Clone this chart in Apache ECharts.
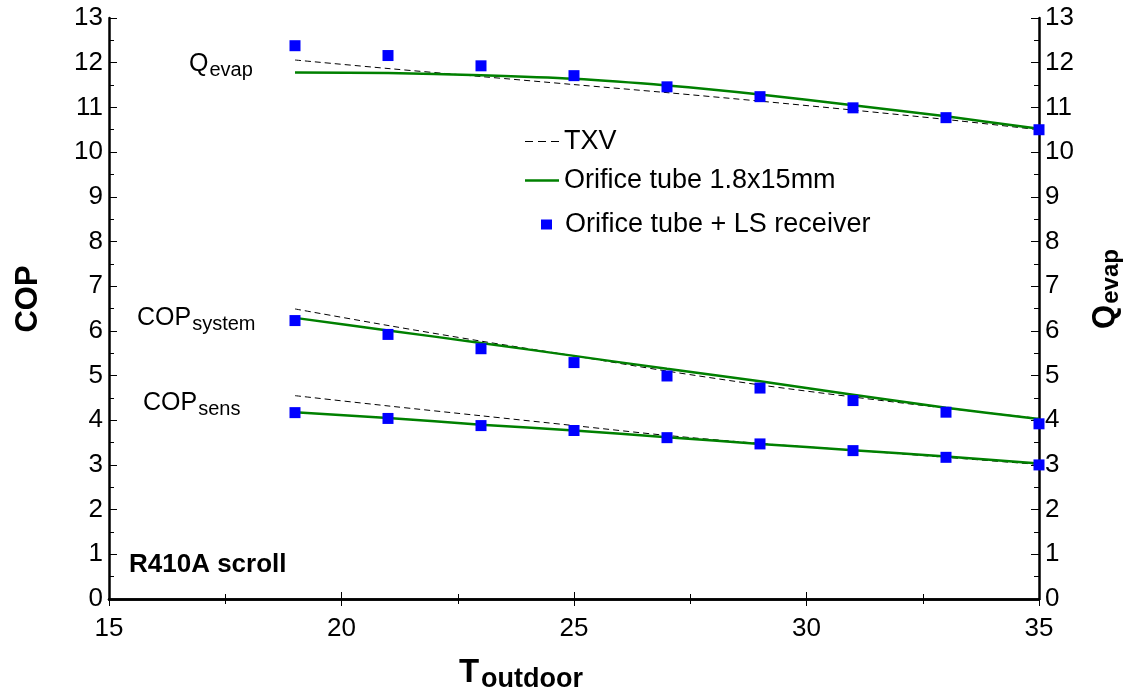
<!DOCTYPE html>
<html><head><meta charset="utf-8">
<script src="https://cdn.jsdelivr.net/npm/echarts@6/dist/echarts.min.js"></script>
<style>html,body{margin:0;padding:0;background:#fff}#c{width:1135px;height:691px}</style>
</head><body><div id="c"></div>
<script>
const tOutdoor = [19, 21, 23, 25, 27, 29, 31, 33, 35];
// TXV (dashed)
const txvQevap = [12.06, 11.87, 11.69, 11.51, 11.33, 11.14, 10.94, 10.73, 10.50];
const txvCopSystem = [6.49, 6.12, 5.77, 5.44, 5.10, 4.79, 4.52, 4.27, 4.04];
const txvCopSens = [4.55, 4.32, 4.10, 3.88, 3.66, 3.48, 3.33, 3.17, 3.01];
// Orifice tube 1.8x15mm (green)
const oriQevap = [11.78, 11.77, 11.72, 11.64, 11.49, 11.29, 11.05, 10.80, 10.52];
const oriCopSystem = [6.29, 6.01, 5.73, 5.44, 5.15, 4.87, 4.57, 4.28, 4.03];
const oriCopSens = [4.18, 4.05, 3.90, 3.77, 3.62, 3.47, 3.33, 3.19, 3.03];
// Orifice tube + LS receiver (squares)
const lsQevap = [12.38, 12.16, 11.93, 11.71, 11.46, 11.24, 10.99, 10.77, 10.50];
const lsCopSystem = [6.23, 5.92, 5.60, 5.29, 4.99, 4.72, 4.44, 4.18, 3.92];
const lsCopSens = [4.17, 4.04, 3.88, 3.77, 3.61, 3.47, 3.32, 3.17, 3.00];
const xTicks = [15, 20, 25, 30, 35];
const yTicks = [0,1,2,3,4,5,6,7,8,9,10,11,12,13];

const pair = (ys) => tOutdoor.map((x, i) => [x, ys[i]]);
const FONT = 'Liberation Sans, Arial, sans-serif';
const txvStyle = {color: '#000', width: 1, type: [6, 4]};
const oriStyle = {color: '#008000', width: 2.5};

function lineSeries(name, ys, style, yIdx) {
  return {name, type: 'line', data: pair(ys), yAxisIndex: yIdx, symbol: 'none', smooth: 0.3,
    lineStyle: style, itemStyle: {color: style.color}, z: 2, silent: true};
}
function sqSeries(ys, yIdx) {
  return {name: 'Orifice tube + LS receiver', type: 'scatter', data: pair(ys), yAxisIndex: yIdx,
    symbol: 'rect', symbolSize: 11, itemStyle: {color: '#0000ff', opacity: 1}, z: 3};
}
const axisLine = {show: true, lineStyle: {color: '#000', width: 2.5}};
const xBase = {type: 'value', min: 15, max: 35, interval: 5,
  axisLine, axisTick: {show: true, inside: true, length: 7, lineStyle: {color: '#000', width: 1}},
  minorTick: {show: true, splitNumber: 2, length: 5, lineStyle: {color: '#000', width: 1}},
  splitLine: {show: false}, minorSplitLine: {show: false}};
const yBase = {type: 'value', min: 0, max: 13, interval: 1,
  axisLine, axisTick: {show: true, inside: true, length: 8, lineStyle: {color: '#000', width: 1}},
  minorTick: {show: true, splitNumber: 2, length: 5, lineStyle: {color: '#000', width: 1}},
  splitLine: {show: false}, minorSplitLine: {show: false}};
const tickFont = {color: '#000', fontSize: 26, fontFamily: FONT};
const legText = {fontSize: 27, fontFamily: FONT, color: '#000'};

const chart = echarts.init(document.getElementById('c'), null, {renderer: 'canvas'});
chart.setOption({
  backgroundColor: '#fff',
  animation: false,
  grid: {left: 109, right: 96, top: 18, bottom: 92},
  textStyle: {fontFamily: FONT},
  xAxis: [
    Object.assign({}, xBase, {position: 'bottom', axisLabel: Object.assign({show: true, margin: 17,
      formatter: v => xTicks.includes(v) ? String(v) : ''}, tickFont)}),
    Object.assign({}, xBase, {position: 'top', axisLabel: {show: false}})
  ],
  yAxis: [
    Object.assign({}, yBase, {position: 'left', axisLabel: Object.assign({show: true, margin: 6,
      formatter: v => yTicks.includes(v) ? String(v) : ''}, tickFont)}),
    Object.assign({}, yBase, {position: 'right', axisLabel: Object.assign({show: true, margin: 6,
      formatter: v => yTicks.includes(v) ? String(v) : ''}, tickFont)})
  ],
  legend: [
    {left: 520, top: 123, itemWidth: 34, itemHeight: 1.5, selectedMode: false, textStyle: legText,
      data: [{name: 'TXV', icon: 'path://M0,0h8v1h-8z M13,0h8v1h-8z M26,0h8v1h-8z', itemStyle: {color: '#000', opacity: 1}}]},
    {left: 520, top: 162, itemWidth: 34, itemHeight: 2.5, selectedMode: false, textStyle: legText,
      data: [{name: 'Orifice tube 1.8x15mm', icon: 'rect'}]},
    {left: 536, top: 206, itemWidth: 11, itemHeight: 10, selectedMode: false,
      textStyle: Object.assign({padding: [0, 0, 0, 8]}, legText),
      data: [{name: 'Orifice tube + LS receiver', icon: 'rect', itemStyle: {color: '#0000ff', opacity: 1}}]}
  ],
  series: [
    lineSeries('TXV', txvQevap, txvStyle, 1),
    lineSeries('TXV', txvCopSystem, txvStyle, 0),
    lineSeries('TXV', txvCopSens, txvStyle, 0),
    lineSeries('Orifice tube 1.8x15mm', oriQevap, oriStyle, 1),
    lineSeries('Orifice tube 1.8x15mm', oriCopSystem, oriStyle, 0),
    lineSeries('Orifice tube 1.8x15mm', oriCopSens, oriStyle, 0),
    sqSeries(lsQevap, 1),
    sqSeries(lsCopSystem, 0),
    sqSeries(lsCopSens, 0)
  ],
  graphic: [
    {type: 'text', left: 189, top: 48, style: {text: '{m|Q}{s|evap}', rich: {
      m: {fontSize: 25, fontFamily: FONT, fill: '#000', lineHeight: 30},
      s: {fontSize: 20, fontFamily: FONT, fill: '#000', lineHeight: 30, padding: [12, 0, 0, 1]}}}},
    {type: 'text', left: 137, top: 302, style: {text: '{m|COP}{s|system}', rich: {
      m: {fontSize: 25, fontFamily: FONT, fill: '#000', lineHeight: 30},
      s: {fontSize: 20, fontFamily: FONT, fill: '#000', lineHeight: 30, padding: [12, 0, 0, 1]}}}},
    {type: 'text', left: 143, top: 387, style: {text: '{m|COP}{s|sens}', rich: {
      m: {fontSize: 25, fontFamily: FONT, fill: '#000', lineHeight: 30},
      s: {fontSize: 20, fontFamily: FONT, fill: '#000', lineHeight: 30, padding: [12, 0, 0, 1]}}}},
    {type: 'text', left: 129, top: 552, style: {text: 'R410A scroll', fontSize: 26, fontWeight: 'bold', fontFamily: FONT, fill: '#000'}},
    {type: 'text', x: 28, y: 299, rotation: Math.PI / 2, style: {text: 'COP', fontSize: 31, fontWeight: 'bold', fontFamily: FONT, fill: '#000', align: 'center', verticalAlign: 'middle'}},
    {type: 'text', x: 1105, y: 289, rotation: Math.PI / 2, style: {text: '{m|Q}{s|evap}', align: 'center', verticalAlign: 'middle', rich: {
      m: {fontSize: 31, fontWeight: 'bold', fontFamily: FONT, fill: '#000', lineHeight: 36},
      s: {fontSize: 24, fontWeight: 'bold', fontFamily: FONT, fill: '#000', lineHeight: 36, padding: [12, 0, 0, 1]}}}},
    {type: 'text', x: 521, y: 673, style: {text: '{m|T}{s|outdoor}', align: 'center', verticalAlign: 'middle', rich: {
      m: {fontSize: 33, fontWeight: 'bold', fontFamily: FONT, fill: '#000', lineHeight: 38},
      s: {fontSize: 27, fontWeight: 'bold', fontFamily: FONT, fill: '#000', lineHeight: 38, padding: [14, 0, 0, 2]}}}}
  ]
});
</script>
</body></html>
